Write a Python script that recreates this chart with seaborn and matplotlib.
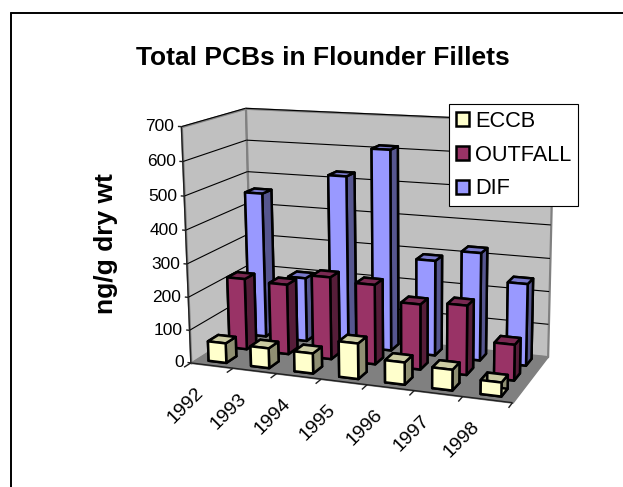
import numpy as np
import matplotlib
matplotlib.use('Agg')
import matplotlib.pyplot as plt
from matplotlib.lines import Line2D
from matplotlib.patches import Patch
from mpl_toolkits.mplot3d.art3d import Poly3DCollection, Line3DCollection
import seaborn as sns

years = ['1992', '1993', '1994', '1995', '1996', '1997', '1998']
series = ['ECCB', 'OUTFALL', 'DIF']
eccb = [60, 60, 60, 105, 65, 60, 40]
outfall = [220, 215, 250, 240, 195, 205, 105]
dif = [455, 200, 525, 612, 290, 325, 245]
z_ticks = [0, 100, 200, 300, 400, 500, 600, 700]

# front, top, side colour of the bars
colors = {'ECCB': ['#FFFFCC', '#CCCCA3', '#8F8F72'],
          'OUTFALL': ['#993366', '#7A2952', '#561D39'],
          'DIF': ['#9999FF', '#7A7ACC', '#56568F']}

sns.set_style('white')
plt.rcParams['font.family'] = ['Liberation Sans', 'DejaVu Sans']
plt.rcParams['text.color'] = 'black'

W, H = 623, 487
fig = plt.figure(figsize=(W / 100, H / 100), dpi=100)
ax = fig.add_axes([0, -(W - H) / 2 / H, 1, W / H], projection='3d', computed_zorder=False)
ax.set_axis_off()
ax.patch.set_visible(False)

# excel style camera, fitted on the corners of the box in the picture
world = [(0, 0, 0), (7, 0, 0), (7, 1, 0), (0, 1, 0), (0, 0, 700), (0, 1, 700), (7, 1, 700),
         (1, 0, 0), (2, 0, 0), (3, 0, 0), (4, 0, 0), (5, 0, 0), (6, 0, 0)]
pix = [(190, 361), (513, 404), (547, 355), (252, 327), (181, 128), (246, 107), (553, 122),
       (233, 367), (277, 373), (322, 379), (367, 385), (414, 391), (463, 397)]
rows = []
rhs = []
for (a, b, c), (u, v) in zip(world, pix):
    rows.append([a, b, c, 1, 0, 0, 0, 0, -u * a, -u * b, -u * c])
    rows.append([0, 0, 0, 0, a, b, c, 1, -v * a, -v * b, -v * c])
    rhs += [u, v]
sol = np.linalg.lstsq(np.array(rows, float), np.array(rhs, float), rcond=None)[0]
cam = np.append(sol, 1.0).reshape(3, 4)


def fitted_proj():
    # pixels (from top left) -> display -> the axes own 2d coordinates
    to_disp = np.array([[1, 0, 0], [0, -1, H], [0, 0, 1.0]])
    p = ax.transData.inverted().get_matrix() @ to_disp @ cam
    depth = np.array([-0.02, 1.0, -0.0002, 2.0])
    return np.array([p[0], p[1], depth, p[2]])


ax.get_proj = fitted_proj


def label_at(x, y, z, dx, dy, text, **kw):
    # text sits in figure space, dx dy are pixels away from the projected point
    u, v, w = cam @ np.array([x, y, z, 1.0])
    fig.text((u / w + dx) / W, 1 - (v / w + dy) / H, text, **kw)


# walls and floor
wall = '#C0C0C0'
left_wall = [(0, 0, 0), (0, 1, 0), (0, 1, 700), (0, 0, 700)]
back_wall = [(0, 1, 0), (7, 1, 0), (7, 1, 700), (0, 1, 700)]
floor = [(0, 0, 0), (7, 0, 0), (7, 1, 0), (0, 1, 0)]
ax.add_collection3d(Poly3DCollection([left_wall], facecolors=wall, edgecolors='#808080', linewidths=1.6, zorder=1))
ax.add_collection3d(Poly3DCollection([back_wall], facecolors=wall, edgecolors='#808080', linewidths=1.6, zorder=1))
ax.add_collection3d(Poly3DCollection([floor], facecolors='#808080', edgecolors='#808080', linewidths=1, zorder=1))

# gridlines, ticks and labels
grid_segs = []
tick_segs = []
for t in z_ticks:
    if t > 0:
        grid_segs.append([(0, 0, t), (0, 1, t)])
        grid_segs.append([(0, 1, t), (7, 1, t)])
    tick_segs.append([(0, 0, t), (-0.08, 0, t)])
    label_at(0, 0, t, -7, 0, str(t), ha='right', va='center', fontsize=12.5)
for i in range(8):
    tick_segs.append([(i, 0, 0), (i, -0.1, 0)])
tick_segs.append([(0, 0, 0), (0, 0, 700)])
tick_segs.append([(0, 0, 0), (7, 0, 0)])
ax.add_collection3d(Line3DCollection(grid_segs, colors='black', linewidths=0.8, zorder=2))
ax.add_collection3d(Line3DCollection(tick_segs, colors='#202020', linewidths=1.0, zorder=2))

for i, year in enumerate(years):
    label_at(i + 0.5, 0, 0, -11, 25, year, rotation=45, ha='right', va='center',
             rotation_mode='anchor', fontsize=14)

# bars, back row first
bar_w = 0.42
bar_d = 0.16
values = {'ECCB': eccb, 'OUTFALL': outfall, 'DIF': dif}
for row in [2, 1, 0]:
    name = series[row]
    front, top, side = colors[name]
    for i, val in enumerate(values[name]):
        # order in bar3d: bottom, top, front, back, left, right
        ax.bar3d(i + 0.5 - bar_w / 2, (row + 0.5) / 3 - bar_d / 2, 0, bar_w, bar_d, val,
                 color=[top, top, front, front, side, side], shade=False,
                 edgecolor='black', linewidth=1.8, zorder=3 + (2 - row) * 0.1 + i * 0.01)

fig.text(323 / W, 1 - 58 / H, 'Total PCBs in Flounder Fillets', ha='center', va='center',
         fontsize=19, fontweight='bold')
fig.text(106 / W, 1 - 244 / H, 'ng/g dry wt', ha='center', va='center', rotation=90,
         fontsize=19, fontweight='bold')

handles = [Patch(facecolor=colors[s][0], edgecolor='black', linewidth=1.8) for s in series]
leg = fig.legend(handles, series, loc='upper left', bbox_to_anchor=(449 / W, 1 - 104 / H),
                 bbox_transform=fig.transFigure, fontsize=15.7, frameon=True, fancybox=False,
                 edgecolor='black', framealpha=1, borderaxespad=0, handlelength=0.62, handleheight=0.62,
                 handletextpad=0.25, labelspacing=0.58, borderpad=0.32)
leg.get_frame().set_linewidth(0.8)
leg.set_zorder(10)

# only the top and left edge of the frame are in the picture
fig.add_artist(Line2D([10.5 / W, 10.5 / W], [0, 1 - 12.5 / H], transform=fig.transFigure, color='black', lw=1.4))
fig.add_artist(Line2D([10.5 / W, 1], [1 - 12.5 / H, 1 - 12.5 / H], transform=fig.transFigure, color='black', lw=1.4))

fig.savefig('out.png', dpi=100)
